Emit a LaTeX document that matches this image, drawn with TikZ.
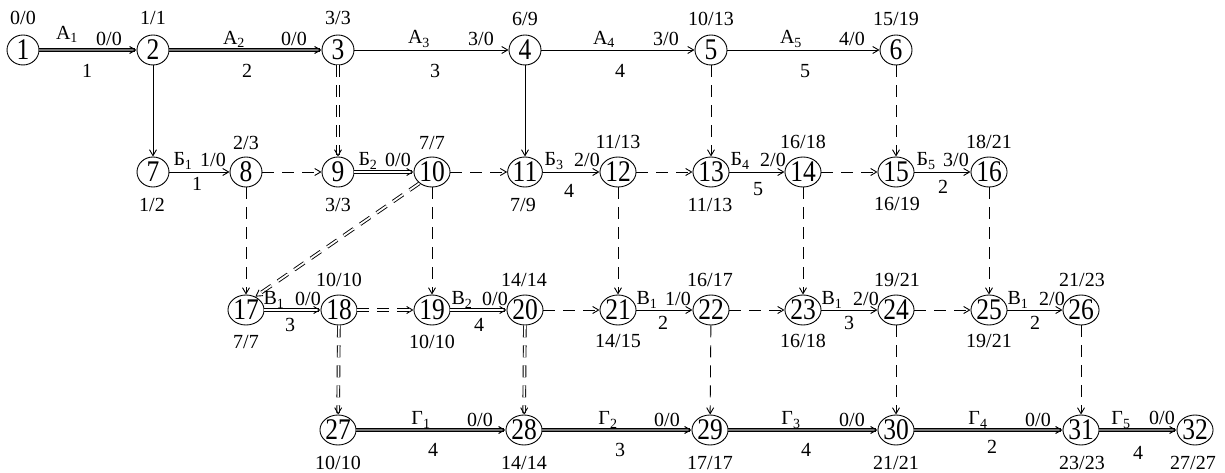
\documentclass[tikz,border=0pt]{standalone}
\usepackage{fontspec}
\setmainfont{Liberation Serif}
\newfontfamily\numfont[FakeStretch=0.85]{Liberation Serif}
\usetikzlibrary{arrows.meta,shapes.geometric}
\tikzset{
 ev/.style={ellipse,draw,line width=0.9pt,minimum width=32pt,minimum height=30pt,inner sep=0pt,font=\numfont\fontsize{30}{30}\selectfont},
 lbl/.style={inner sep=0pt,font=\fontsize{20}{20}\selectfont},
 act/.style={line width=0.9pt,-{Straight Barb[length=6pt,width=7pt]}},
 dum/.style={act,dash pattern=on 12pt off 8pt},
 crit/.style={act,double,double distance=1.8pt,line width=0.9pt},
 critdum/.style={crit,dash pattern=on 12pt off 8pt},
 mainp/.style={act,double=black!55,double distance=1.2pt,line width=1pt},
}
\begin{document}
\begin{tikzpicture}[x=1pt,y=-1pt]
\useasboundingbox (0,0) rectangle (1225,473);
% row 1
\node[ev] (n1) at (23,50) {1};
\node[ev] (n2) at (153,50) {2};
\node[ev] (n3) at (338,50) {3};
\node[ev] (n4) at (525,50) {4};
\node[ev] (n5) at (711,50) {5};
\node[ev] (n6) at (896,50) {6};
% row 2
\node[ev] (n7) at (153,172) {7};
\node[ev] (n8) at (246,172) {8};
\node[ev] (n9) at (338,172) {9};
\node[ev] (n10) at (432,172) {10};
\node[ev] (n11) at (525,172) {11};
\node[ev] (n12) at (618,172) {12};
\node[ev] (n13) at (711,172) {13};
\node[ev] (n14) at (803,172) {14};
\node[ev] (n15) at (896,172) {15};
\node[ev] (n16) at (989,172) {16};
% row 3
\node[ev] (n17) at (246,310) {17};
\node[ev] (n18) at (339,310) {18};
\node[ev] (n19) at (432,310) {19};
\node[ev] (n20) at (525,310) {20};
\node[ev] (n21) at (618,310) {21};
\node[ev] (n22) at (711,310) {22};
\node[ev] (n23) at (803,310) {23};
\node[ev] (n24) at (896,310) {24};
\node[ev] (n25) at (989,310) {25};
\node[ev] (n26) at (1081,310) {26};
% row 4
\node[ev] (n27) at (338,430) {27};
\node[ev] (n28) at (524,430) {28};
\node[ev] (n29) at (710,430) {29};
\node[ev] (n30) at (896,430) {30};
\node[ev] (n31) at (1081,430) {31};
\node[ev] (n32) at (1195,430) {32};
% edges row 1
\draw[mainp] (n1) -- (n2);
\draw[mainp] (n2) -- (n3);
\draw[act] (n3) -- (n4);
\draw[act] (n4) -- (n5);
\draw[act] (n5) -- (n6);
% verticals 1->2
\draw[act] (n2) -- (n7);
\draw[critdum] (n3) -- (n9);
\draw[act] (n4) -- (n11);
\draw[dum] (n5) -- (n13);
\draw[dum] (n6) -- (n15);
% row 2
\draw[act] (n7) -- (n8);
\draw[dum] (n8) -- (n9);
\draw[crit] (n9) -- (n10);
\draw[dum] (n10) -- (n11);
\draw[act] (n11) -- (n12);
\draw[dum] (n12) -- (n13);
\draw[act] (n13) -- (n14);
\draw[dum] (n14) -- (n15);
\draw[act] (n15) -- (n16);
% verticals 2->3
\draw[dum] (n8) -- (n17);
\draw[critdum] (n10.222) -- (n17.55);
\draw[dum] (n10) -- (n19);
\draw[dum] (n12) -- (n21);
\draw[dum] (n14) -- (n23);
\draw[dum] (n16) -- (n25);
% row 3
\draw[crit] (n17) -- (n18);
\draw[critdum] (n18) -- (n19);
\draw[crit] (n19) -- (n20);
\draw[dum] (n20) -- (n21);
\draw[act] (n21) -- (n22);
\draw[dum] (n22) -- (n23);
\draw[act] (n23) -- (n24);
\draw[dum] (n24) -- (n25);
\draw[act] (n25) -- (n26);
% verticals 3->4
\draw[critdum] (n18) -- (n27);
\draw[critdum] (n20) -- (n28);
\draw[dum] (n22) -- (n29);
\draw[dum] (n24) -- (n30);
\draw[dum] (n26) -- (n31);
% row 4
\draw[mainp] (n27) -- (n28);
\draw[mainp] (n28) -- (n29);
\draw[mainp] (n29) -- (n30);
\draw[mainp] (n30) -- (n31);
\draw[mainp] (n31) -- (n32);
% event labels
\node[lbl] (t1) at (23,18) {0/0};
\node[lbl] (t2) at (153,18) {1/1};
\node[lbl] (t3) at (338,18) {3/3};
\node[lbl] (t4) at (525,19) {6/9};
\node[lbl] (t5) at (711,19) {10/13};
\node[lbl] (t6) at (896,19) {15/19};
\node[lbl] (t7) at (152,205) {1/2};
\node[lbl] (t8) at (246,143) {2/3};
\node[lbl] (t9) at (338,205) {3/3};
\node[lbl] (t10) at (432,143) {7/7};
\node[lbl] (t11) at (523,205) {7/9};
\node[lbl] (t12) at (618,142) {11/13};
\node[lbl] (t13) at (710,205) {11/13};
\node[lbl] (t14) at (803,142) {16/18};
\node[lbl] (t15) at (897,204) {16/19};
\node[lbl] (t16) at (989,142) {18/21};
\node[lbl] (t17) at (246,342) {7/7};
\node[lbl] (t18) at (339,280) {10/10};
\node[lbl] (t19) at (432,342) {10/10};
\node[lbl] (t20) at (524,280) {14/14};
\node[lbl] (t21) at (618,341) {14/15};
\node[lbl] (t22) at (710,280) {16/17};
\node[lbl] (t23) at (803,341) {16/18};
\node[lbl] (t24) at (897,280) {19/21};
\node[lbl] (t25) at (989,341) {19/21};
\node[lbl] (t26) at (1082,280) {21/23};
\node[lbl] (t27) at (338,463) {10/10};
\node[lbl] (t28) at (524,463) {14/14};
\node[lbl] (t29) at (710,463) {17/17};
\node[lbl] (t30) at (896,463) {21/21};
\node[lbl] (t31) at (1082,463) {23/23};
\node[lbl] (t32) at (1193,463) {27/27};
% activity labels row 1
\node[lbl] (a1) at (67,34) {А\textsubscript{1}};
\node[lbl] (a1r) at (109,39) {0/0};
\node[lbl] (a1d) at (87,71) {1};
\node[lbl] (a2) at (234,39) {А\textsubscript{2}};
\node[lbl] (a2r) at (294,39) {0/0};
\node[lbl] (a2d) at (247,71) {2};
\node[lbl] (a3) at (419,39) {А\textsubscript{3}};
\node[lbl] (a3r) at (481,39) {3/0};
\node[lbl] (a3d) at (435,71) {3};
\node[lbl] (a4) at (604,39) {А\textsubscript{4}};
\node[lbl] (a4r) at (666,39) {3/0};
\node[lbl] (a4d) at (620,71) {4};
\node[lbl] (a5) at (791,39) {А\textsubscript{5}};
\node[lbl] (a5r) at (852,39) {4/0};
\node[lbl] (a5d) at (805,71) {5};
% row 2
\node[lbl] (b1) at (183,161) {Б\textsubscript{1}};
\node[lbl] (b1r) at (213,160) {1/0};
\node[lbl] (b1d) at (197,184) {1};
\node[lbl] (b2) at (368,161) {Б\textsubscript{2}};
\node[lbl] (b2r) at (398,160) {0/0};
\node[lbl] (b3) at (554,161) {Б\textsubscript{3}};
\node[lbl] (b3r) at (587,160) {2/0};
\node[lbl] (b3d) at (569,191) {4};
\node[lbl] (b4) at (740,161) {Б\textsubscript{4}};
\node[lbl] (b4r) at (773,160) {2/0};
\node[lbl] (b4d) at (758,189) {5};
\node[lbl] (b5) at (926,161) {Б\textsubscript{5}};
\node[lbl] (b5r) at (956,160) {3/0};
\node[lbl] (b5d) at (943,187) {2};
% row 3
\node[lbl] (c1) at (274,300) {В\textsubscript{1}};
\node[lbl] (c1r) at (308,299) {0/0};
\node[lbl] (c1d) at (290,325) {3};
\node[lbl] (c2) at (462,300) {В\textsubscript{2}};
\node[lbl] (c2r) at (495,299) {0/0};
\node[lbl] (c2d) at (479,325) {4};
\node[lbl] (c3) at (647,300) {В\textsubscript{1}};
\node[lbl] (c3r) at (678,299) {1/0};
\node[lbl] (c3d) at (663,323) {2};
\node[lbl] (c4) at (832,300) {В\textsubscript{1}};
\node[lbl] (c4r) at (866,299) {2/0};
\node[lbl] (c4d) at (849,323) {3};
\node[lbl] (c5) at (1018,300) {В\textsubscript{1}};
\node[lbl] (c5r) at (1052,299) {2/0};
\node[lbl] (c5d) at (1035,323) {2};
% row 4
\node[lbl] (g1) at (421,420) {Г\textsubscript{1}};
\node[lbl] (g1r) at (480,420) {0/0};
\node[lbl] (g1d) at (433,450) {4};
\node[lbl] (g2) at (608,420) {Г\textsubscript{2}};
\node[lbl] (g2r) at (667,420) {0/0};
\node[lbl] (g2d) at (620,450) {3};
\node[lbl] (g3) at (791,420) {Г\textsubscript{3}};
\node[lbl] (g3r) at (852,420) {0/0};
\node[lbl] (g3d) at (806,450) {4};
\node[lbl] (g4) at (978,420) {Г\textsubscript{4}};
\node[lbl] (g4r) at (1038,420) {0/0};
\node[lbl] (g4d) at (992,447) {2};
\node[lbl] (g5) at (1121,420) {Г\textsubscript{5}};
\node[lbl] (g5r) at (1162,418) {0/0};
\node[lbl] (g5d) at (1138,453) {4};
\end{tikzpicture}
\end{document}
